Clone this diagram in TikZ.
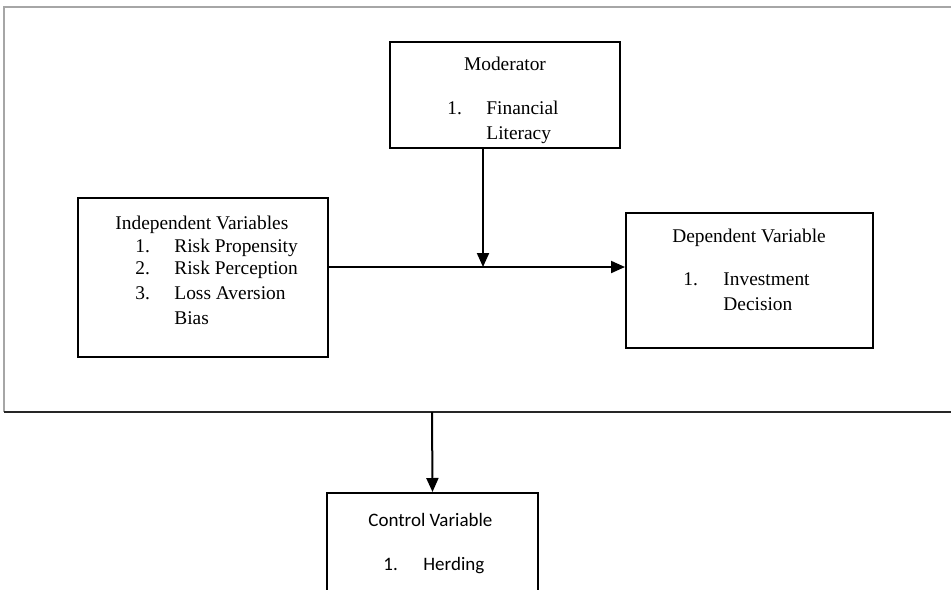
\documentclass[tikz,border=0pt]{standalone}
\usepackage{fontspec}
\setmainfont{Liberation Serif}
\newfontfamily\calfont{Carlito}
\usetikzlibrary{arrows.meta}
\begin{document}
\begin{tikzpicture}[x=0.5pt,y=-0.5pt,
  box/.style={draw=black, line width=1pt, inner sep=0pt, fill=white},
  txt/.style={inner sep=0pt, anchor=base west, font=\fontsize{9.7pt}{11.8pt}\selectfont},
  ctxt/.style={txt, anchor=base},
  cal/.style={inner sep=0pt, anchor=base west, font=\calfont\fontsize{9.5pt}{11.5pt}\selectfont},
  arr/.style={line width=1pt, -{Triangle[width=6pt,length=7pt]}},
  frameline/.style={line width=1pt, draw=gray!70}]
\useasboundingbox (0,0) rectangle (951,589);
\clip (0,0) rectangle (951,589);
% outer frame
\draw[frameline] (4,412) -- (4,7) -- (960,7);
\draw[line width=1.1pt, black!85] (4,412) -- (960,412);
% boxes
\node[box, minimum width=115pt, minimum height=53pt] (mod) at (505,95) {};
\node[box, minimum width=125pt, minimum height=79.5pt] (ind) at (203,277.5) {};
\node[box, minimum width=123.5pt, minimum height=67.5pt] (dep) at (749.5,280.5) {};
\node[box, minimum width=105.5pt, minimum height=60pt] (ctl) at (432.5,553) {};
% connector points
\coordinate (j) at (483,267);
\coordinate (fb) at (432,412);
% arrows
\draw[arr] (mod.south -| j) -- (j);
\draw[arr] (ind.east |- j) -- (dep.west |- j);
\draw[arr] (fb) -- (ctl.north);
% moderator text
\node[ctxt] (modh) at (505,70) {Moderator};
\node[txt] (mod1n) at (447,114) {1.};
\node[txt] (mod1) at (486,114) {Financial};
\node[txt] (mod1b) at (486,139) {Literacy};
% independent text
\node[txt] (indh) at (115,229) {Independent Variables};
\node[txt] (ind1n) at (135,252) {1.};
\node[txt] (ind1) at (174,252) {Risk Propensity};
\node[txt] (ind2n) at (135,274) {2.};
\node[txt] (ind2) at (174,274) {Risk Perception};
\node[txt] (ind3n) at (135,299) {3.};
\node[txt] (ind3) at (174,299) {Loss Aversion};
\node[txt] (ind3b) at (174,324) {Bias};
% dependent text
\node[ctxt] (deph) at (749,242) {Dependent Variable};
\node[txt] (dep1n) at (683,285) {1.};
\node[txt] (dep1) at (723,285) {Investment};
\node[txt] (dep1b) at (723,310) {Decision};
% control text
\node[cal] (ctlh) at (368,526) {Control Variable};
\node[cal] (ctl1n) at (383,570) {1.};
\node[cal] (ctl1) at (423,570) {Herding};
\end{tikzpicture}
\end{document}
